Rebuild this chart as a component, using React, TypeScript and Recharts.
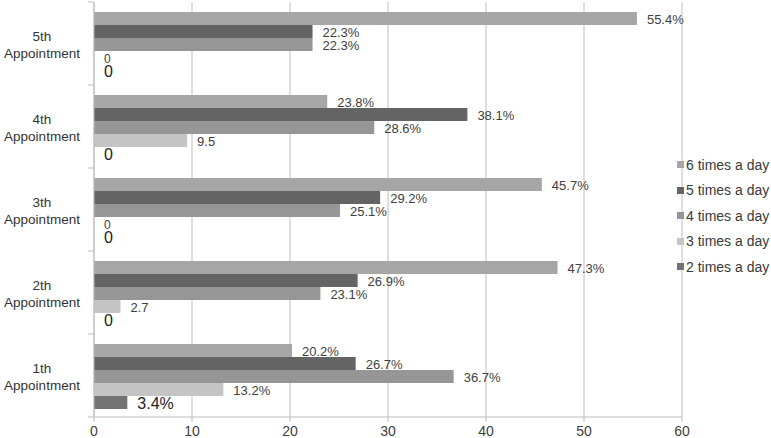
import { BarChart, Bar, XAxis, YAxis, CartesianGrid, Legend, LabelList } from "recharts";

const categories = ["5th Appointment", "4th Appointment", "3th Appointment", "2th Appointment", "1th Appointment"];

const sixTimes = [55.4, 23.8, 45.7, 47.3, 20.2];
const fiveTimes = [22.3, 38.1, 29.2, 26.9, 26.7];
const fourTimes = [22.3, 28.6, 25.1, 23.1, 36.7];
const threeTimes = [0, 9.5, 0, 2.7, 13.2];
const twoTimes = [0, 0, 0, 0, 3.4];

const sixLabels = ["55.4%", "23.8%", "45.7%", "47.3%", "20.2%"];
const fiveLabels = ["22.3%", "38.1%", "29.2%", "26.9%", "26.7%"];
const fourLabels = ["22.3%", "28.6%", "25.1%", "23.1%", "36.7%"];
const threeLabels = ["0", "9.5", "0", "2.7", "13.2%"];
const twoLabels = ["0", "0", "0", "0", "3.4%"];

const xTicks = [0, 10, 20, 30, 40, 50, 60];

const series = [
    { key: "six", name: "6 times a day", color: "#a6a6a6" },
    { key: "five", name: "5 times a day", color: "#646464" },
    { key: "four", name: "4 times a day", color: "#969696" },
    { key: "three", name: "3 times a day", color: "#c4c4c4" },
    { key: "two", name: "2 times a day", color: "#737373" },
];

const data = categories.map((name, i) => ({
    name,
    six: sixTimes[i],
    five: fiveTimes[i],
    four: fourTimes[i],
    three: threeTimes[i],
    two: twoTimes[i],
    sixLabel: sixLabels[i],
    fiveLabel: fiveLabels[i],
    fourLabel: fourLabels[i],
    threeLabel: threeLabels[i],
    twoLabel: twoLabels[i],
}));

const axisGray = "#bdbdbd";

// label just right of the bar end; the text is the label string from data
const makeLabel = (fontSize: number, fill: string, zeroSize?: number) => (props: any) => {
    const { x, y, width, height, value } = props;
    const txt = String(value);
    const size = txt === "0" && zeroSize ? zeroSize : fontSize;
    return (
        <text x={x + Math.max(width, 0) + 10} y={y + height / 2 + 1.5} dominantBaseline="central" fontSize={size} fill={fill}>
            {txt}
        </text>
    );
};

const CategoryTick = (props: any) => {
    const { x, y, payload, index, visibleTicksCount } = props;
    const half = payload && payload.offset ? payload.offset : 41.5;
    const [first, second] = String(payload.value).split(" ");
    const last = index === visibleTicksCount - 1;
    return (
        <g>
            <line x1={x - 6} x2={x} y1={y - half} y2={y - half} stroke={axisGray} />
            {last && <line x1={x - 6} x2={x} y1={y + half} y2={y + half} stroke={axisGray} />}
            <text textAnchor="middle" fontSize={13.5} fill="#333">
                <tspan x={x - 52} y={y - 3}>{first}</tspan>
                <tspan x={x - 52} y={y + 14}>{second}</tspan>
            </text>
        </g>
    );
};

const LegendContent = () => (
    <div>
        {series.map((s) => (
            <div key={s.key} style={{ display: "flex", alignItems: "center", height: 25.5 }}>
                <span style={{ width: 7, height: 7, background: s.color, marginRight: 2, display: "inline-block" }} />
                <span style={{ fontSize: 14, color: "#3a3a3a", whiteSpace: "nowrap" }}>{s.name}</span>
            </div>
        ))}
    </div>
);

export default function App() {
    return (
        <div style={{ position: "absolute", left: 0, top: 0, background: "#fff", fontFamily: "'Liberation Sans', Arial, sans-serif" }}>
            <BarChart
                width={771}
                height={438}
                data={data}
                layout="vertical"
                margin={{ top: 2, right: 89, bottom: 0, left: 0 }}
                barCategoryGap="12%"
                barGap={0}
            >
                <CartesianGrid horizontal={false} stroke={axisGray} />
                <XAxis
                    type="number"
                    domain={[0, 60]}
                    ticks={xTicks}
                    height={21}
                    axisLine={{ stroke: axisGray }}
                    tickLine={{ stroke: axisGray }}
                    tickSize={5}
                    tickMargin={4}
                    tick={{ fontSize: 14, fill: "#404040" }}
                />
                <YAxis
                    type="category"
                    dataKey="name"
                    width={94}
                    axisLine={{ stroke: axisGray }}
                    tickLine={false}
                    tickSize={0}
                    tickMargin={0}
                    tick={<CategoryTick />}
                    interval={0}
                />
                <Legend
                    layout="vertical"
                    align="center"
                    verticalAlign="middle"
                    content={<LegendContent />}
                    wrapperStyle={{ left: 677, top: 152, width: 94 }}
                />
                <Bar dataKey="six" name="6 times a day" fill="#a6a6a6" isAnimationActive={false}>
                    <LabelList dataKey="sixLabel" content={makeLabel(13, "#404040")} />
                </Bar>
                <Bar dataKey="five" name="5 times a day" fill="#646464" isAnimationActive={false}>
                    <LabelList dataKey="fiveLabel" content={makeLabel(13, "#404040")} />
                </Bar>
                <Bar dataKey="four" name="4 times a day" fill="#969696" isAnimationActive={false}>
                    <LabelList dataKey="fourLabel" content={makeLabel(13, "#404040")} />
                </Bar>
                <Bar dataKey="three" name="3 times a day" fill="#c4c4c4" minPointSize={0.001} isAnimationActive={false}>
                    <LabelList dataKey="threeLabel" content={makeLabel(13, "#404040", 12)} />
                </Bar>
                <Bar dataKey="two" name="2 times a day" fill="#737373" minPointSize={0.001} isAnimationActive={false}>
                    <LabelList dataKey="twoLabel" content={makeLabel(16, "#222")} />
                </Bar>
            </BarChart>
        </div>
    );
}
